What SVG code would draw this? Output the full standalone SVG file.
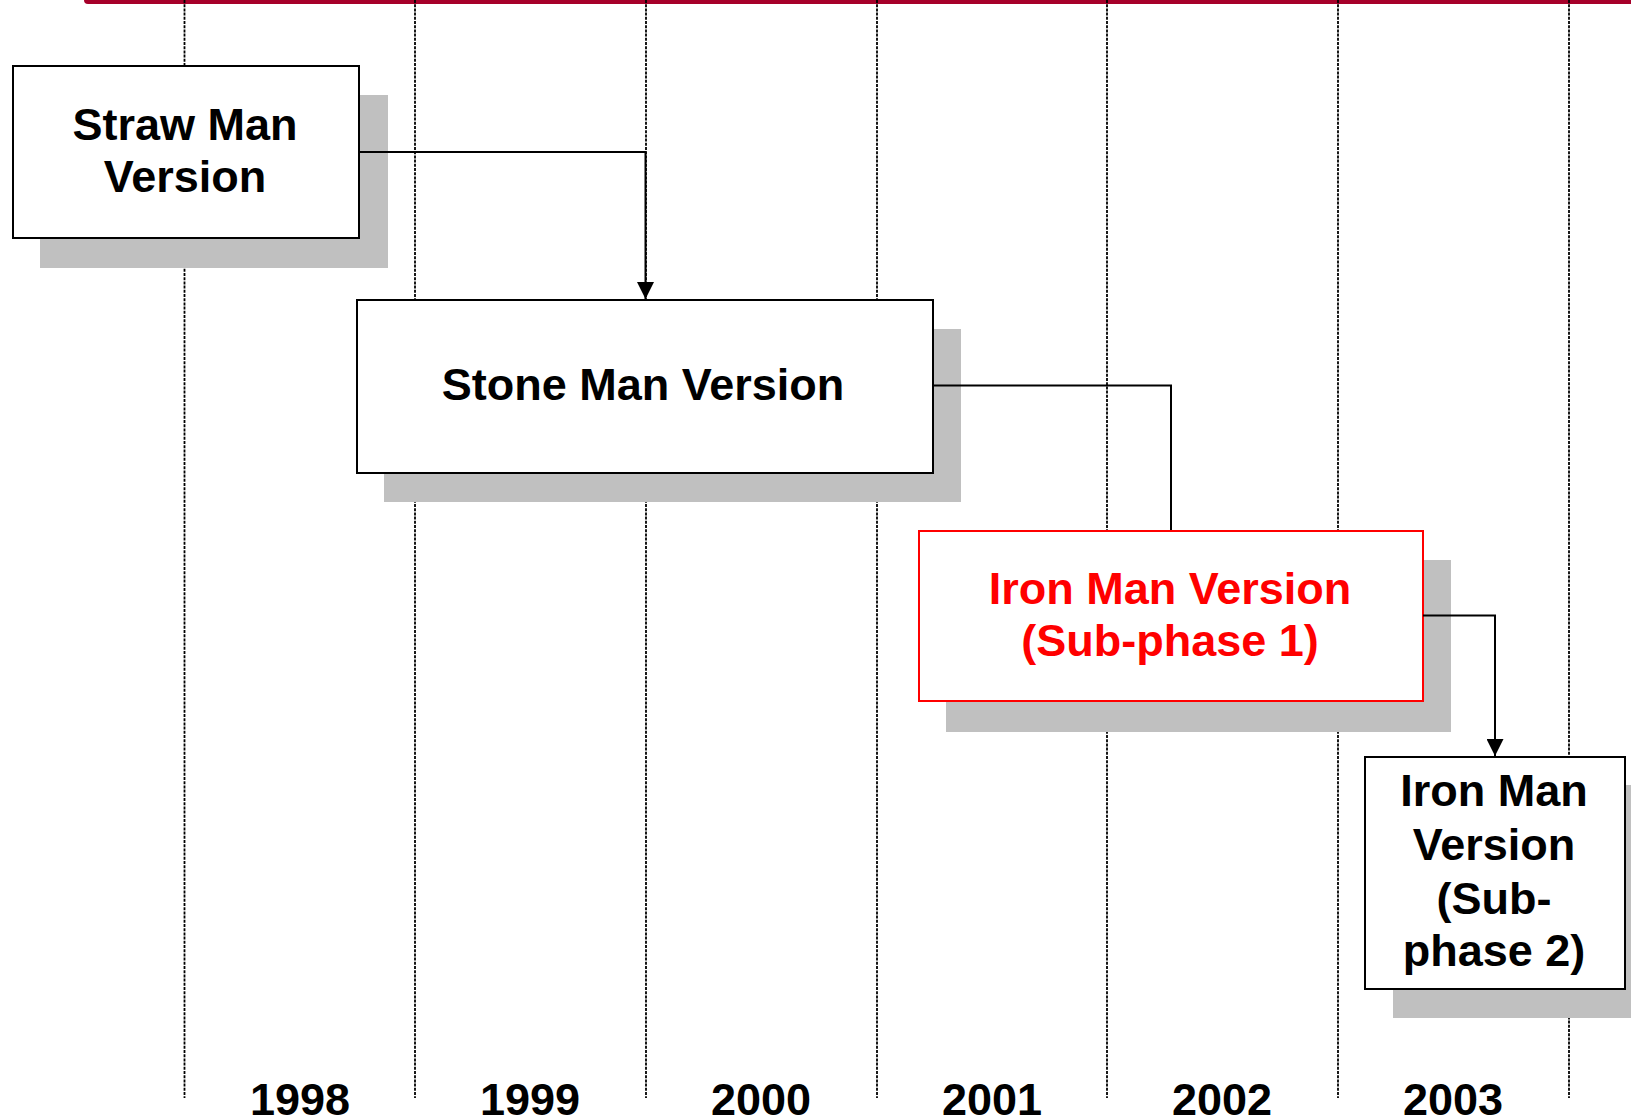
<svg xmlns="http://www.w3.org/2000/svg" width="1631" height="1119" viewBox="0 0 1631 1119">
  <style>
    .grid { stroke: #000; stroke-width: 1.8; stroke-dasharray: 3 1.2; fill: none; }
    .shadow { fill: #C0C0C0; stroke: none; }
    .box { fill: #fff; stroke: #000; stroke-width: 2; }
    .box-red { fill: #fff; stroke: #FF0000; stroke-width: 2; }
    .label { font-family: "Liberation Sans", Arial, sans-serif; font-weight: bold; font-size: 45px; text-anchor: middle; fill: #000; }
    .label-red { fill: #FF0000; }
    .conn { fill: none; stroke: #000; stroke-width: 2; }
  </style>
  <defs>
    <marker id="arrow" markerUnits="userSpaceOnUse" markerWidth="18" markerHeight="17" refX="17" refY="8.5" orient="auto">
      <path d="M0,0 L17,8.5 L0,17 z" fill="#000"/>
    </marker>
  </defs>

  <rect width="1631" height="1119" fill="#fff"/>

  <!-- top rule -->
  <rect x="84" y="-6" width="1560" height="10" rx="4" fill="#A6002A"/>

  <!-- year grid lines -->
  <g id="grid">
    <line class="grid" x1="184.5" y1="0" x2="184.5" y2="1098"/>
    <line class="grid" x1="415" y1="0" x2="415" y2="1098"/>
    <line class="grid" x1="646" y1="0" x2="646" y2="1098"/>
    <line class="grid" x1="877" y1="0" x2="877" y2="1098"/>
    <line class="grid" x1="1107" y1="0" x2="1107" y2="1098"/>
    <line class="grid" x1="1338" y1="0" x2="1338" y2="1098"/>
    <line class="grid" x1="1569" y1="0" x2="1569" y2="1098"/>
  </g>

  <!-- year labels -->
  <g id="years" class="label">
    <text x="300" y="1115">1998</text>
    <text x="530" y="1115">1999</text>
    <text x="761" y="1115">2000</text>
    <text x="992" y="1115">2001</text>
    <text x="1222" y="1115">2002</text>
    <text x="1453" y="1115">2003</text>
  </g>

  <g id="straw-man">
    <rect class="shadow" x="40" y="95" width="348" height="173"/>
    <rect class="box" x="13" y="66" width="346" height="172"/>
    <text class="label" x="185" y="140">Straw Man</text>
    <text class="label" x="185" y="192">Version</text>
  </g>

  <g id="stone-man">
    <rect class="shadow" x="384" y="329" width="577" height="173"/>
    <rect class="box" x="357" y="300" width="576" height="173"/>
    <text class="label" x="643" y="400">Stone Man Version</text>
  </g>

  <g id="iron-man-1">
    <rect class="shadow" x="946" y="560" width="505" height="172"/>
    <rect class="box-red" x="919" y="531" width="504" height="170"/>
    <text class="label label-red" x="1170" y="604">Iron Man Version</text>
    <text class="label label-red" x="1170" y="656">(Sub-phase 1)</text>
  </g>

  <g id="iron-man-2">
    <rect class="shadow" x="1393" y="785" width="260" height="233"/>
    <rect class="box" x="1365" y="757" width="260" height="232"/>
    <text class="label" x="1494" y="806">Iron Man</text>
    <text class="label" x="1494" y="860">Version</text>
    <text class="label" x="1494" y="914">(Sub-</text>
    <text class="label" x="1494" y="966">phase 2)</text>
  </g>

  <g id="connectors">
    <path class="conn" d="M359,152 H645.5 V299" marker-end="url(#arrow)"/>
    <path class="conn" d="M933,385.5 H1171 V530"/>
    <path class="conn" d="M1423,615.5 H1495 V756" marker-end="url(#arrow)"/>
  </g>
</svg>
